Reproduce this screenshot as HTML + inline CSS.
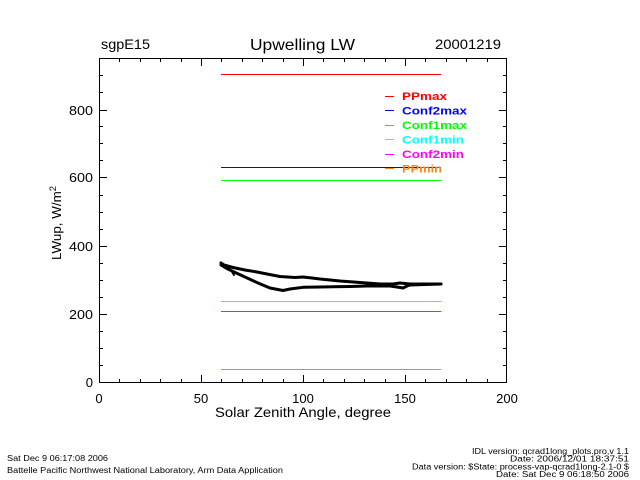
<!DOCTYPE html>
<html>
<head>
<meta charset="utf-8">
<style>
html,body{margin:0;padding:0;background:#fff;}
svg{display:block;}
text{font-family:"Liberation Sans",sans-serif;}
</style>
</head>
<body>
<svg width="640" height="480" viewBox="0 0 640 480" xmlns="http://www.w3.org/2000/svg">
<rect x="0" y="0" width="640" height="480" fill="#fff"/>

<!-- header -->
<text x="101" y="49" font-size="14" textLength="49" lengthAdjust="spacingAndGlyphs">sgpE15</text>
<text x="250" y="50" font-size="16" textLength="105" lengthAdjust="spacingAndGlyphs">Upwelling  LW</text>
<text x="435" y="49" font-size="14" textLength="66" lengthAdjust="spacingAndGlyphs">20001219</text>

<!-- frame -->
<rect x="99.5" y="58.5" width="407" height="324" fill="none" stroke="#000" stroke-width="1"/>

<!-- x ticks -->
<g stroke="#000" stroke-width="1">
<!-- bottom major -->
<line x1="99.5" y1="383" x2="99.5" y2="375"/>
<line x1="201.5" y1="383" x2="201.5" y2="375"/>
<line x1="303.5" y1="383" x2="303.5" y2="375"/>
<line x1="405.5" y1="383" x2="405.5" y2="375"/>
<!-- bottom minor -->
<line x1="119.5" y1="383" x2="119.5" y2="379"/>
<line x1="140.5" y1="383" x2="140.5" y2="379"/>
<line x1="160.5" y1="383" x2="160.5" y2="379"/>
<line x1="181.5" y1="383" x2="181.5" y2="379"/>
<line x1="221.5" y1="383" x2="221.5" y2="379"/>
<line x1="242.5" y1="383" x2="242.5" y2="379"/>
<line x1="262.5" y1="383" x2="262.5" y2="379"/>
<line x1="283.5" y1="383" x2="283.5" y2="379"/>
<line x1="323.5" y1="383" x2="323.5" y2="379"/>
<line x1="344.5" y1="383" x2="344.5" y2="379"/>
<line x1="364.5" y1="383" x2="364.5" y2="379"/>
<line x1="385.5" y1="383" x2="385.5" y2="379"/>
<line x1="425.5" y1="383" x2="425.5" y2="379"/>
<line x1="446.5" y1="383" x2="446.5" y2="379"/>
<line x1="466.5" y1="383" x2="466.5" y2="379"/>
<line x1="487.5" y1="383" x2="487.5" y2="379"/>
<!-- top major -->
<line x1="201.5" y1="58" x2="201.5" y2="66"/>
<line x1="303.5" y1="58" x2="303.5" y2="66"/>
<line x1="405.5" y1="58" x2="405.5" y2="66"/>
<!-- top minor -->
<line x1="119.5" y1="58" x2="119.5" y2="62"/>
<line x1="140.5" y1="58" x2="140.5" y2="62"/>
<line x1="160.5" y1="58" x2="160.5" y2="62"/>
<line x1="181.5" y1="58" x2="181.5" y2="62"/>
<line x1="221.5" y1="58" x2="221.5" y2="62"/>
<line x1="242.5" y1="58" x2="242.5" y2="62"/>
<line x1="262.5" y1="58" x2="262.5" y2="62"/>
<line x1="283.5" y1="58" x2="283.5" y2="62"/>
<line x1="323.5" y1="58" x2="323.5" y2="62"/>
<line x1="344.5" y1="58" x2="344.5" y2="62"/>
<line x1="364.5" y1="58" x2="364.5" y2="62"/>
<line x1="385.5" y1="58" x2="385.5" y2="62"/>
<line x1="425.5" y1="58" x2="425.5" y2="62"/>
<line x1="446.5" y1="58" x2="446.5" y2="62"/>
<line x1="466.5" y1="58" x2="466.5" y2="62"/>
<line x1="487.5" y1="58" x2="487.5" y2="62"/>

<!-- y ticks left major -->
<line x1="99" y1="314.5" x2="107" y2="314.5"/>
<line x1="99" y1="246.5" x2="107" y2="246.5"/>
<line x1="99" y1="177.5" x2="107" y2="177.5"/>
<line x1="99" y1="110.5" x2="107" y2="110.5"/>
<!-- y ticks left minor -->
<line x1="99" y1="365.5" x2="103" y2="365.5"/>
<line x1="99" y1="348.5" x2="103" y2="348.5"/>
<line x1="99" y1="331.5" x2="103" y2="331.5"/>
<line x1="99" y1="297.5" x2="103" y2="297.5"/>
<line x1="99" y1="280.5" x2="103" y2="280.5"/>
<line x1="99" y1="263.5" x2="103" y2="263.5"/>
<line x1="99" y1="229.5" x2="103" y2="229.5"/>
<line x1="99" y1="212.5" x2="103" y2="212.5"/>
<line x1="99" y1="195.5" x2="103" y2="195.5"/>
<line x1="99" y1="160.5" x2="103" y2="160.5"/>
<line x1="99" y1="143.5" x2="103" y2="143.5"/>
<line x1="99" y1="126.5" x2="103" y2="126.5"/>
<line x1="99" y1="92.5" x2="103" y2="92.5"/>
<line x1="99" y1="75.5" x2="103" y2="75.5"/>
<!-- y ticks right major -->
<line x1="507" y1="314.5" x2="499" y2="314.5"/>
<line x1="507" y1="246.5" x2="499" y2="246.5"/>
<line x1="507" y1="177.5" x2="499" y2="177.5"/>
<line x1="507" y1="110.5" x2="499" y2="110.5"/>
<!-- y ticks right minor -->
<line x1="507" y1="365.5" x2="503" y2="365.5"/>
<line x1="507" y1="348.5" x2="503" y2="348.5"/>
<line x1="507" y1="331.5" x2="503" y2="331.5"/>
<line x1="507" y1="297.5" x2="503" y2="297.5"/>
<line x1="507" y1="280.5" x2="503" y2="280.5"/>
<line x1="507" y1="263.5" x2="503" y2="263.5"/>
<line x1="507" y1="229.5" x2="503" y2="229.5"/>
<line x1="507" y1="212.5" x2="503" y2="212.5"/>
<line x1="507" y1="195.5" x2="503" y2="195.5"/>
<line x1="507" y1="160.5" x2="503" y2="160.5"/>
<line x1="507" y1="143.5" x2="503" y2="143.5"/>
<line x1="507" y1="126.5" x2="503" y2="126.5"/>
<line x1="507" y1="92.5" x2="503" y2="92.5"/>
<line x1="507" y1="75.5" x2="503" y2="75.5"/>
</g>

<!-- y tick labels -->
<g font-size="13" text-anchor="end">
<text x="93" y="387">0</text>
<text x="93" y="319" textLength="24" lengthAdjust="spacingAndGlyphs">200</text>
<text x="93" y="251" textLength="24" lengthAdjust="spacingAndGlyphs">400</text>
<text x="93" y="182" textLength="24" lengthAdjust="spacingAndGlyphs">600</text>
<text x="93" y="115" textLength="24" lengthAdjust="spacingAndGlyphs">800</text>
</g>

<!-- x tick labels -->
<g font-size="13" text-anchor="middle">
<text x="99" y="403">0</text>
<text x="201" y="403">50</text>
<text x="303" y="403">100</text>
<text x="405" y="403">150</text>
<text x="507" y="403">200</text>
</g>

<!-- axis titles -->
<text x="215" y="417" font-size="14" textLength="176" lengthAdjust="spacingAndGlyphs">Solar Zenith Angle, degree</text>
<text transform="translate(61,260) rotate(-90)" font-size="13" textLength="74" lengthAdjust="spacingAndGlyphs">LWup, W/m<tspan dy="-5" font-size="9">2</tspan></text>

<!-- horizontal limit lines -->
<g stroke-width="1">
<line x1="221" y1="74.5" x2="441" y2="74.5" stroke="#ff0000"/>
<line x1="221" y1="167.5" x2="441" y2="167.5" stroke="#0000ff"/>
<line x1="221" y1="180.5" x2="441" y2="180.5" stroke="#00ff00"/>
<line x1="221" y1="301.5" x2="441" y2="301.5" stroke="#00ffff"/>
<line x1="221" y1="311.5" x2="441" y2="311.5" stroke="#ff00ff"/>
<line x1="221" y1="369.5" x2="441" y2="369.5" stroke="#f5861f"/>
</g>

<!-- data curves -->
<g fill="none" stroke="#000" stroke-width="3" stroke-linejoin="round" stroke-linecap="round">
<path d="M221,263 L224,265 L233,267.5 L245,270 L257,272 L267,274 L280,276.5 L295,277.5 L303,277 L312,278 L320,279 L340,281 L367,283 L380,284 L393,284 L400,283 L410,284 L425,284 L441,284"/>
<path d="M221,265 L226,268 L233,271.5 L245,277 L258,283 L270,288 L283,290.5 L290,289 L303,287.3 L320,287 L333,286.7 L350,286.5 L367,286 L390,286 L397,287 L403,288 L407,286 L410,285 L425,284.5 L441,284"/>
<path d="M231,270 L234,275" stroke-width="2"/>
</g>

<!-- legend -->
<g stroke-width="1">
<line x1="385" y1="96.5" x2="394" y2="96.5" stroke="#ff0000"/>
<line x1="385" y1="110.5" x2="394" y2="110.5" stroke="#0000ff"/>
<line x1="385" y1="125.5" x2="394" y2="125.5" stroke="#00ff00"/>
<line x1="385" y1="139.5" x2="394" y2="139.5" stroke="#00ffff"/>
<line x1="385" y1="154.5" x2="394" y2="154.5" stroke="#ff00ff"/>
<line x1="385" y1="168.5" x2="394" y2="168.5" stroke="#f5861f"/>
</g>
<g font-size="11" font-weight="bold">
<text x="402" y="100" fill="#ff0000" textLength="45" lengthAdjust="spacingAndGlyphs">PPmax</text>
<text x="402" y="114.5" fill="#0000ff" textLength="65" lengthAdjust="spacingAndGlyphs">Conf2max</text>
<text x="402" y="129" fill="#00ff00" textLength="65" lengthAdjust="spacingAndGlyphs">Conf1max</text>
<text x="402" y="143.5" fill="#00ffff" textLength="62" lengthAdjust="spacingAndGlyphs">Conf1min</text>
<text x="402" y="158" fill="#ff00ff" textLength="62" lengthAdjust="spacingAndGlyphs">Conf2min</text>
<text x="402" y="172.5" fill="#f5861f" textLength="40" lengthAdjust="spacingAndGlyphs">PPmin</text>
</g>

<!-- footer -->
<g font-size="8">
<text x="7" y="461" textLength="101" lengthAdjust="spacingAndGlyphs">Sat Dec  9 06:17:08 2006</text>
<text x="7" y="473" textLength="276" lengthAdjust="spacingAndGlyphs">Battelle Pacific Northwest National Laboratory, Arm Data Application</text>
<text x="472" y="454" textLength="157" lengthAdjust="spacingAndGlyphs">IDL version: qcrad1long_plots.pro,v 1.1</text>
<text x="510" y="461.5" textLength="119" lengthAdjust="spacingAndGlyphs">Date: 2006/12/01 18:37:51</text>
<text x="412" y="469.5" textLength="217" lengthAdjust="spacingAndGlyphs">Data version: $State: process-vap-qcrad1long-2.1-0 $</text>
<text x="496" y="477" textLength="133" lengthAdjust="spacingAndGlyphs">Date: Sat Dec  9 06:18:50 2006</text>
</g>
</svg>
</body>
</html>
